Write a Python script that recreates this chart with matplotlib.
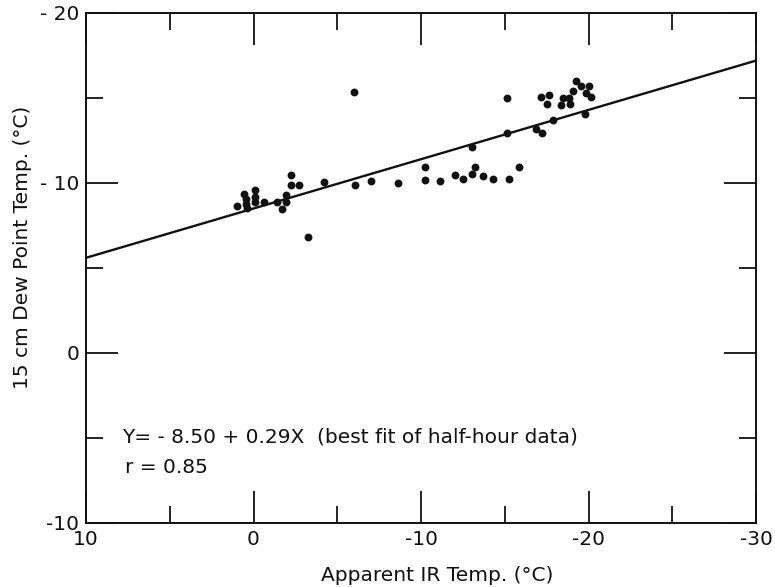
import matplotlib
matplotlib.use("Agg")
import matplotlib.pyplot as plt
from matplotlib.ticker import FixedLocator, FixedFormatter, MultipleLocator

# ---- data ----
ir_temp = [0.97, 0.55, 0.47, 0.45, 0.41, -0.09, -0.11, -0.11, -0.63, -1.39,
           -1.68, -1.94, -1.92, -2.24, -2.24, -2.69, -3.27, -4.21, -6.0, -6.08,
           -7.01, -8.61, -10.26, -10.24, -11.13, -12.01, -12.49, -13.03, -13.24,
           -13.03, -13.68, -14.32, -15.24, -15.15, -15.83, -15.15, -16.87, -17.2,
           -17.14, -17.62, -17.54, -17.9, -18.34, -18.46, -18.82, -18.9, -19.06,
           -19.25, -19.55, -20.05, -19.85, -20.15, -19.79]
dew_temp = [-8.65, -9.35, -9.06, -8.79, -8.53, -9.56, -9.19, -8.86, -8.86, -8.91,
            -8.47, -8.86, -9.29, -10.47, -9.86, -9.88, -6.84, -10.04, -15.34, -9.9,
            -10.1, -10.0, -10.92, -10.19, -10.1, -10.47, -10.24, -12.1, -10.92,
            -10.51, -10.43, -10.24, -10.24, -12.92, -10.96, -15.02, -13.16, -12.96,
            -15.04, -15.19, -14.63, -13.71, -14.59, -15.02, -15.02, -14.63, -15.43,
            -16.02, -15.69, -15.72, -15.28, -15.08, -14.06]

fit_intercept = -8.50
fit_slope = 0.29
fit_x = [10, -30]

x_ticks = [10, 0, -10, -20, -30]
x_ticklabels = ["10", "0", "-10", "-20", "-30"]
y_ticks = [-20, -10, 0, 10]
y_ticklabels = ["- 20", "- 10", "0", "-10"]

eq_text = "Y= - 8.50 + 0.29X  (best fit of half-hour data)"
r_text = "r = 0.85"

plt.rcParams['font.family'] = ['DejaVu Sans']
FS = 14.5
INK = "#111111"

fig = plt.figure(figsize=(7.75, 5.87), dpi=100)
ax = fig.add_axes([86/775, 1 - 523/587, (756-86)/775, (523-13)/587])

ax.scatter(ir_temp, dew_temp, s=32, color=INK, zorder=3, linewidths=0)
fit_y = [fit_intercept + fit_slope * x for x in fit_x]
ax.plot(fit_x, fit_y, color=INK, linewidth=1.7, zorder=2)

ax.set_xlim(10, -30)
ax.set_ylim(10, -20)

ax.xaxis.set_major_locator(FixedLocator(x_ticks))
ax.xaxis.set_major_formatter(FixedFormatter(x_ticklabels))
ax.yaxis.set_major_locator(FixedLocator(y_ticks))
ax.yaxis.set_major_formatter(FixedFormatter(y_ticklabels))
ax.xaxis.set_minor_locator(MultipleLocator(5))
ax.yaxis.set_minor_locator(MultipleLocator(5))

ax.tick_params(which="both", direction="in", top=True, right=True,
               color=INK, width=1.3, labelsize=FS, labelcolor=INK)
ax.tick_params(which="major", length=23, pad=5)
ax.tick_params(which="minor", length=12)
for s in ax.spines.values():
    s.set_linewidth(1.4)
    s.set_color(INK)

ax.set_xlabel("Apparent IR Temp. (°C)", fontsize=FS, color=INK)
ax.xaxis.set_label_coords(0.524, -0.085)
ax.set_ylabel("15 cm Dew Point Temp. (°C)", fontsize=FS, color=INK)
ax.yaxis.set_label_coords(-0.080, 0.541)

ax.text(0.054, 0.169, eq_text, transform=ax.transAxes, fontsize=FS,
        color=INK, va="center", ha="left")
ax.text(0.058, 0.108, r_text, transform=ax.transAxes, fontsize=FS,
        color=INK, va="center", ha="left")

fig.savefig("out.png", dpi=100)
